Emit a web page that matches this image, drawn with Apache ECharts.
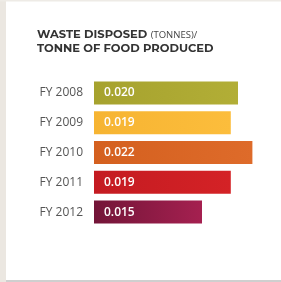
<!DOCTYPE html>
<html>
<head>
<meta charset="utf-8">
<script src="https://cdn.jsdelivr.net/npm/echarts@6/dist/echarts.min.js"></script>
<style>
  html, body { margin: 0; padding: 0; background: #fff; }
  #chart { width: 281px; height: 282px; }
</style>
</head>
<body>
<div id="chart"></div>
<script>
var years = ['FY 2008', 'FY 2009', 'FY 2010', 'FY 2011', 'FY 2012'];
var wastePerTonne = [0.020, 0.019, 0.022, 0.019, 0.015];
// left colour -> right colour for each bar
var barColors = [
    ['#a6a22e', '#b2ae36'],
    ['#f6b432', '#fcbd3c'],
    ['#d4601f', '#de6b2a'],
    ['#c41b21', '#d42226'],
    ['#731538', '#a52050']
];

var myChart = echarts.init(document.getElementById('chart'));

var seriesData = [];
for (var i = 0; i < wastePerTonne.length; i++) {
    seriesData.push({
        value: wastePerTonne[i],
        itemStyle: {
            color: new echarts.graphic.LinearGradient(0, 0, 1, 0, [
                {offset: 0, color: barColors[i][0]},
                {offset: 1, color: barColors[i][1]}
            ])
        }
    });
}

var option = {
    backgroundColor: '#fff',
    animation: false,
    graphic: [
        // beige frame on the left/top, grey line on the bottom
        {type: 'rect', left: 0, top: 0, shape: {width: 6, height: 282}, style: {fill: '#ebe7e1'}},
        {type: 'rect', left: 0, top: 0, shape: {width: 281, height: 1.5}, style: {fill: '#eeebe6'}},
        {type: 'rect', left: 6, top: 280, shape: {width: 275, height: 2}, style: {fill: '#cfcfcf'}},
        {
            type: 'text', left: 37, top: 29,
            style: {
                text: '{b|WASTE DISPOSED} {s|(TONNES)/}\n{b|TONNE OF FOOD PRODUCED}',
                rich: {
                    b: {fontFamily: 'Montserrat, "Open Sans", sans-serif', fontWeight: 'bold', fontSize: 11.5, fill: '#333', lineHeight: 14},
                    s: {fontFamily: '"Open Sans", sans-serif', fontSize: 9.5, fill: '#444', lineHeight: 14}
                }
            }
        }
    ],
    grid: {left: 94, top: 78, width: 180, height: 149, containLabel: false},
    xAxis: {
        type: 'value',
        min: 0,
        max: 0.025,
        show: false
    },
    yAxis: {
        type: 'category',
        inverse: true,
        data: years,
        axisLine: {show: false},
        axisTick: {show: false},
        axisLabel: {
            margin: 11,
            color: '#555',
            fontSize: 12,
            fontFamily: '"Open Sans", sans-serif'
        }
    },
    series: [{
        type: 'bar',
        data: seriesData,
        barWidth: 23,
        label: {
            show: true,
            position: 'insideLeft',
            offset: [5, 0],
            color: '#fff',
            fontWeight: 600,
            fontSize: 12,
            fontFamily: '"Open Sans", sans-serif',
            formatter: function (p) { return p.value.toFixed(3); }
        }
    }]
};
myChart.setOption(option);
</script>
</body>
</html>
